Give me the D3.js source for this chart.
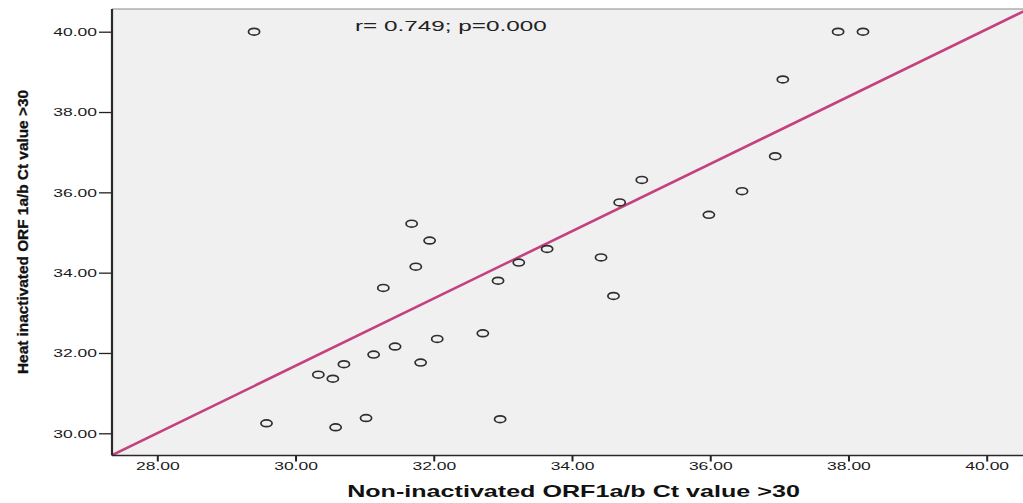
<!DOCTYPE html>
<html>
<head>
<meta charset="utf-8">
<script src="https://cdn.jsdelivr.net/npm/d3@7"></script>
<style>
  html, body { margin: 0; padding: 0; background: #fff; overflow: hidden; }
  svg { display: block; font-family: "Liberation Sans", Arial, sans-serif; }
</style>
</head>
<body>
<svg id="chart" width="1023" height="503"></svg>
<script>
// scatter of heat-inactivated vs non-inactivated Ct values, SPSS style

const xVals = [29.40, 37.85, 38.21, 37.05, 36.94, 36.46, 35.98, 35.01, 34.69, 34.42,
               34.60, 33.64, 33.23, 32.93, 31.68, 31.94, 31.74, 31.27, 32.71, 32.05,
               31.44, 31.13, 31.81, 30.70, 30.33, 30.54, 29.58, 30.58, 31.02, 32.96];
const yVals = [40.00, 40.00, 40.00, 38.81, 36.90, 36.03, 35.44, 36.31, 35.75, 34.38,
               33.42, 34.59, 34.25, 33.80, 35.22, 34.80, 34.15, 33.62, 32.49, 32.35,
               32.16, 31.96, 31.76, 31.72, 31.46, 31.36, 30.25, 30.15, 30.38, 30.35];
const fitCoef = [6.54, 0.838]; // intercept, slope of the fit line
const xTicks = [28, 30, 32, 34, 36, 38, 40];
const yTicks = [30, 32, 34, 36, 38, 40];
const annotation = "r= 0.749; p=0.000";
const xTitle = "Non-inactivated ORF1a/b Ct value >30";
const yTitle = "Heat inactivated ORF 1a/b Ct value >30";

const SX = 1.62; // the picture is stretched sideways, text too
const fmt = d3.format(".2f");

const svg = d3.select("#chart");

const x = d3.scaleLinear().domain([28, 40]).range([157.3, 986.7]);
const y = d3.scaleLinear().domain([30, 40]).range([433.3, 31.7]);

const plotL = 112, plotT = 9, plotB = 455.5, plotR = 1030;

svg.append("rect")
  .attr("x", plotL).attr("y", plotT)
  .attr("width", plotR - plotL).attr("height", plotB - plotT)
  .attr("fill", "#f0f0f0");

// top border
svg.append("line")
  .attr("x1", plotL).attr("x2", plotR).attr("y1", plotT).attr("y2", plotT)
  .attr("stroke", "#8a8a8a").attr("stroke-width", 1.2);

svg.append("clipPath").attr("id", "plot-clip")
  .append("rect").attr("x", plotL).attr("y", plotT)
  .attr("width", plotR - plotL).attr("height", plotB - plotT);

// fit line
const x0 = x.invert(plotL), x1 = x.invert(plotR);
svg.append("line")
  .attr("clip-path", "url(#plot-clip)")
  .attr("x1", x(x0)).attr("y1", y(fitCoef[0] + fitCoef[1] * x0))
  .attr("x2", x(x1)).attr("y2", y(fitCoef[0] + fitCoef[1] * x1))
  .attr("stroke", "#c4407f").attr("stroke-width", 2.6);

// points
svg.append("g").selectAll("ellipse")
  .data(xVals.map((v, i) => [v, yVals[i]]))
  .join("ellipse")
  .attr("cx", (d) => x(d[0])).attr("cy", (d) => y(d[1]))
  .attr("rx", 5.6).attr("ry", 3.4)
  .attr("fill", "none").attr("stroke", "#2e2e2e").attr("stroke-width", 1.7);

// y axis
const gy = svg.append("g")
  .attr("transform", `translate(${plotL},0)`)
  .call(d3.axisLeft(y).tickValues(yTicks).tickFormat(fmt).tickSize(13).tickSizeOuter(0));
gy.select(".domain").remove();
gy.selectAll(".tick line").attr("stroke", "#222").attr("stroke-width", 1.3);
gy.selectAll(".tick text")
  .attr("x", 0).attr("dy", "0.36em")
  .attr("font-size", 10.8).attr("fill", "#1a1a1a")
  .attr("font-family", "'Liberation Sans', Arial, sans-serif")
  .attr("transform", `translate(-15,0) scale(${SX},1)`);
svg.append("line")
  .attr("x1", plotL).attr("x2", plotL).attr("y1", plotT).attr("y2", plotB)
  .attr("stroke", "#2a2a2a").attr("stroke-width", 2.2);

// x axis
const gx = svg.append("g")
  .attr("transform", `translate(0,${plotB})`)
  .call(d3.axisBottom(x).tickValues(xTicks).tickFormat(fmt).tickSize(6).tickSizeOuter(0));
gx.select(".domain").remove();
gx.selectAll(".tick line").attr("stroke", "#222").attr("stroke-width", 2);
gx.selectAll(".tick text")
  .attr("y", 7).attr("dy", "0.71em")
  .attr("font-size", 10.8).attr("fill", "#1a1a1a")
  .attr("font-family", "'Liberation Sans', Arial, sans-serif")
  .attr("transform", `scale(${SX},1)`)
  .attr("x", 0);
svg.append("line")
  .attr("x1", plotL).attr("x2", plotR).attr("y1", plotB).attr("y2", plotB)
  .attr("stroke", "#2a2a2a").attr("stroke-width", 1.6);

// annotation
svg.append("text")
  .attr("transform", `translate(355,31) scale(${SX},1)`)
  .attr("font-size", 15).attr("fill", "#222")
  .text(annotation);

// axis titles
svg.append("text")
  .attr("transform", `translate(573.5,497) scale(1.57,1)`)
  .attr("text-anchor", "middle")
  .attr("font-size", 16).attr("font-weight", "bold").attr("fill", "#111")
  .text(xTitle);

svg.append("text")
  .attr("transform", "translate(28,232) rotate(-90)")
  .attr("text-anchor", "middle")
  .attr("font-size", 15.5).attr("font-weight", "bold").attr("fill", "#111")
  .attr("stroke", "#111").attr("stroke-width", 0.3)
  .attr("textLength", 284).attr("lengthAdjust", "spacingAndGlyphs")
  .text(yTitle);
</script>
</body>
</html>
